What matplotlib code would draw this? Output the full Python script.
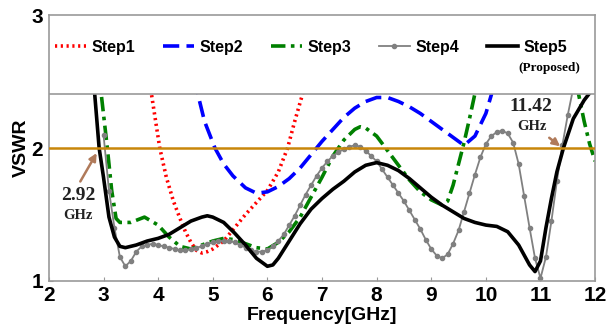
import matplotlib
matplotlib.use("Agg")
import matplotlib.pyplot as plt
from matplotlib.patches import Rectangle

# Step1 (red dotted)
x1 = [3.80, 3.88, 4.03, 4.15, 4.28, 4.40, 4.50, 4.60, 4.70, 4.80, 4.90, 5.00,
      5.20, 5.40, 5.60, 5.80, 6.00, 6.20, 6.37, 6.50, 6.64, 6.80]
y1 = [2.70, 2.40, 2.00, 1.78, 1.60, 1.47, 1.37, 1.29, 1.23, 1.21, 1.22, 1.24,
      1.30, 1.40, 1.50, 1.59, 1.68, 1.82, 2.00, 2.20, 2.40, 2.70]

# Step2 (blue dashed)
x2 = [4.60, 4.73, 4.85, 5.04, 5.20, 5.37, 5.60, 5.80, 6.00, 6.20, 6.40, 6.60,
      6.80, 7.00, 7.20, 7.40, 7.60, 7.80, 8.00, 8.20, 8.40, 8.60, 8.80, 9.00,
      9.20, 9.40, 9.60, 9.80, 10.00, 10.10, 10.30]
y2 = [2.70, 2.40, 2.20, 2.00, 1.88, 1.79, 1.70, 1.66, 1.67, 1.71, 1.77, 1.85,
      1.95, 2.05, 2.14, 2.23, 2.30, 2.35, 2.38, 2.38, 2.35, 2.31, 2.26, 2.20,
      2.14, 2.08, 2.02, 2.09, 2.26, 2.40, 2.80]

# Step3 (green dash-dot)
x3 = [2.90, 2.96, 3.07, 3.15, 3.23, 3.30, 3.50, 3.75, 4.00, 4.20, 4.40, 4.60,
      4.80, 5.00, 5.20, 5.40, 5.60, 5.80, 6.00, 6.20, 6.40, 6.60, 6.80, 7.00,
      7.20, 7.40, 7.60, 7.70, 7.80, 8.00, 8.20, 8.40, 8.60, 8.80, 9.00, 9.20,
      9.30, 9.40, 9.50, 9.60, 9.70, 9.80, 10.00, 10.20, 11.40, 11.60, 11.70,
      11.80, 11.90, 12.00]
y3 = [2.60, 2.40, 2.00, 1.68, 1.47, 1.44, 1.44, 1.48, 1.42, 1.33, 1.26, 1.24,
      1.27, 1.30, 1.32, 1.31, 1.28, 1.25, 1.24, 1.29, 1.37, 1.48, 1.63, 1.78,
      1.94, 2.06, 2.14, 2.16, 2.15, 2.09, 1.98, 1.87, 1.76, 1.67, 1.61, 1.57,
      1.60, 1.72, 1.88, 2.04, 2.22, 2.41, 2.80, 3.20, 3.20, 2.60, 2.40,
      2.20, 2.03, 1.90]

# Step4 (gray with markers)
x4 = [3.0, 3.1, 3.2, 3.3, 3.4, 3.5, 3.6, 3.7, 3.8, 3.9, 4.0, 4.1, 4.2, 4.3,
      4.4, 4.5, 4.6, 4.7, 4.8, 4.9, 5.0, 5.1, 5.2, 5.3, 5.4, 5.5, 5.6, 5.7,
      5.8, 5.9, 6.0, 6.1, 6.2, 6.3, 6.4, 6.5, 6.6, 6.7, 6.8, 6.9, 7.0, 7.1,
      7.2, 7.3, 7.4, 7.5, 7.6, 7.7, 7.8, 7.9, 8.0, 8.1, 8.2, 8.3, 8.4, 8.5,
      8.6, 8.7, 8.8, 8.9, 9.0, 9.1, 9.2, 9.3, 9.4, 9.5, 9.6, 9.7, 9.8, 9.9,
      10.0, 10.1, 10.2, 10.3, 10.4, 10.5, 10.6, 10.7, 10.8, 10.9, 11.0, 11.1,
      11.2, 11.3, 11.4, 11.5, 11.6, 11.7]
y4 = [2.10, 1.68, 1.40, 1.18, 1.11, 1.15, 1.22, 1.26, 1.27, 1.28, 1.27, 1.26,
      1.25, 1.24, 1.23, 1.23, 1.24, 1.25, 1.26, 1.28, 1.29, 1.30, 1.30, 1.30,
      1.29, 1.27, 1.25, 1.23, 1.22, 1.22, 1.23, 1.26, 1.30, 1.35, 1.42, 1.49,
      1.57, 1.65, 1.72, 1.79, 1.85, 1.90, 1.94, 1.97, 1.99, 2.01, 2.02, 2.01,
      1.98, 1.94, 1.90, 1.84, 1.78, 1.72, 1.66, 1.60, 1.53, 1.46, 1.39, 1.31,
      1.24, 1.19, 1.17, 1.20, 1.28, 1.38, 1.52, 1.66, 1.80, 1.93, 2.03, 2.09,
      2.12, 2.13, 2.11, 2.04, 1.88, 1.64, 1.40, 1.17, 1.02, 1.18, 1.45, 1.75,
      2.02, 2.25, 2.45, 2.60]

# Step5 (black, proposed)
x5 = [2.80, 2.84, 2.92, 3.00, 3.10, 3.20, 3.30, 3.40, 3.60, 3.80, 4.00, 4.20,
      4.40, 4.60, 4.80, 4.90, 5.00, 5.20, 5.40, 5.60, 5.80, 6.00, 6.10, 6.20,
      6.40, 6.60, 6.80, 7.00, 7.20, 7.40, 7.60, 7.80, 8.00, 8.20, 8.40, 8.60,
      8.80, 9.00, 9.20, 9.40, 9.60, 9.80, 10.00, 10.20, 10.40, 10.60, 10.80,
      10.90, 11.00, 11.10, 11.20, 11.30, 11.42, 11.60, 11.80, 11.95, 12.00]
y5 = [2.60, 2.40, 2.00, 1.78, 1.48, 1.33, 1.26, 1.25, 1.27, 1.30, 1.32, 1.35,
      1.40, 1.45, 1.48, 1.49, 1.48, 1.44, 1.36, 1.27, 1.17, 1.11, 1.12, 1.17,
      1.30, 1.43, 1.54, 1.62, 1.69, 1.75, 1.82, 1.87, 1.89, 1.87, 1.83, 1.77,
      1.70, 1.63, 1.57, 1.52, 1.47, 1.44, 1.42, 1.41, 1.37, 1.27, 1.12,
      1.07, 1.15, 1.40, 1.62, 1.82, 2.00, 2.22, 2.36, 2.44, 2.46]

xticks = [2, 3, 4, 5, 6, 7, 8, 9, 10, 11, 12]
yticks = [1, 2, 3]

fig = plt.figure(figsize=(6.11, 3.36), dpi=100)
ax = fig.add_axes([0.080, 0.164, 0.894, 0.791])

ax.plot(x1, y1, color="red", lw=2.6, linestyle=(0, (0.6, 1.0)), label="Step1")
ax.plot(x2, y2, color="blue", lw=2.6, linestyle=(0, (4.5, 2)), label="Step2")
ax.plot(x3, y3, color="green", lw=2.6, linestyle=(0, (4, 1.5, 1, 1.5)), label="Step3")
ax.plot(x4, y4, color="gray", lw=1.3, marker="o", markersize=3, label="Step4")
ax.plot(x5, y5, color="black", lw=2.6, label="Step5")

# VSWR = 2 reference line
ax.axhline(2, color="#c8860a", lw=1.8, zorder=3)

# legend box on top of the plot area
ax.add_patch(Rectangle((2, 2.406), 10, 0.594, facecolor="white",
                       edgecolor="#999999", lw=1.2, zorder=5))
leg = ax.legend(loc="center", bbox_to_anchor=(0.0, 0.80, 0.96, 0.16), ncol=5,
                mode="expand", frameon=False, handlelength=1.9,
                handletextpad=0.35, borderaxespad=0,
                prop={"family": "Liberation Sans", "weight": "bold", "size": 11.5})
leg.set_zorder(6)
ax.text(11.16, 2.60, "(Proposed)", ha="center", va="center", fontsize=9.5,
        family="Liberation Serif", weight="bold", zorder=7)

# band edge annotations
arrow = dict(arrowstyle="-|>", color="#b07a5a", lw=1.8, mutation_scale=11)
ax.annotate("", xy=(2.90, 1.98), xytext=(2.55, 1.73), arrowprops=arrow, zorder=7)
ax.text(2.53, 1.64, "2.92", ha="center", va="center", fontsize=14,
        family="Liberation Serif", weight="bold", color="#222222")
ax.text(2.53, 1.49, "GHz", ha="center", va="center", fontsize=10.5,
        family="Liberation Serif", weight="bold", color="#222222")
ax.annotate("", xy=(11.40, 2.00), xytext=(11.12, 2.09), arrowprops=arrow, zorder=7)
ax.text(10.83, 2.315, "11.42", ha="center", va="center", fontsize=14,
        family="Liberation Serif", weight="bold", color="#222222", zorder=7)
ax.text(10.85, 2.165, "GHz", ha="center", va="center", fontsize=10.5,
        family="Liberation Serif", weight="bold", color="#222222", zorder=7)

ax.set_xlim(2, 12)
ax.set_ylim(1, 3)
ax.set_xticks(xticks)
ax.set_yticks(yticks)
ax.tick_params(direction="in", length=3, color="#999999", pad=4)
for lab in ax.get_xticklabels() + ax.get_yticklabels():
    lab.set_fontsize(15)
    lab.set_fontweight("bold")
    lab.set_family("Liberation Sans")
for s in ax.spines.values():
    s.set_color("#999999")
    s.set_linewidth(1.2)

ax.set_xlabel("Frequency[GHz]", fontsize=14, weight="bold",
              family="Liberation Sans", labelpad=1)
ax.set_ylabel("VSWR", fontsize=14, weight="bold", family="Liberation Sans",
              labelpad=1)

fig.savefig("out.png", dpi=100)
